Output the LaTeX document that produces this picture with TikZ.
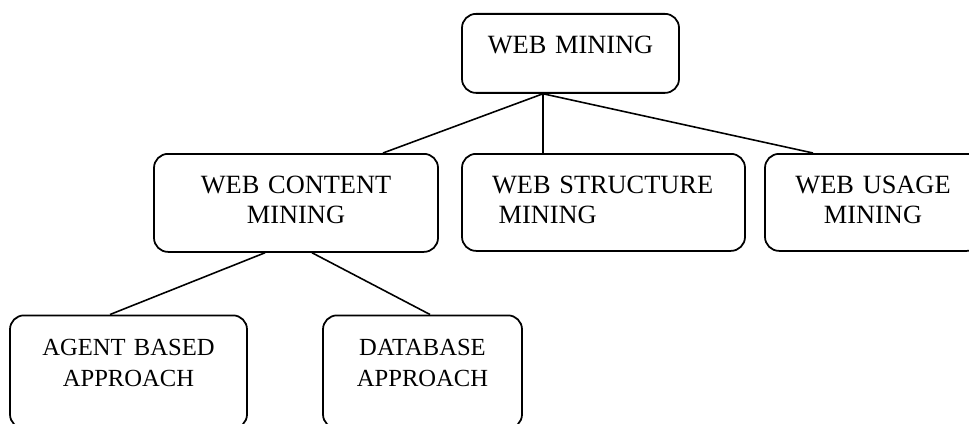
\documentclass[tikz,border=0pt]{standalone}
\usepackage{fontspec}
\setmainfont{Liberation Serif}
\begin{document}
\begin{tikzpicture}[
    box/.style={draw,rounded corners=0.28cm,line width=1pt,anchor=north,
      inner xsep=0pt,inner ysep=0pt,text height=0.8cm,align=center,
      font=\fontsize{15}{17}\selectfont},
    small/.style={font=\fontsize{14}{17.6}\selectfont},
    link/.style={line width=0.9pt},
  ]
  \def\rowa{-0.26}
  \def\rowb{-3.06}
  \def\rowc{-6.29}
  \path[use as bounding box,clip] (0,0) rectangle (19.38,-8.46);

  \node[box,text width=4.34cm,text depth=0.78cm] (mining) at (11.41,\rowa) {WEB MINING};

  \node[box,text width=5.68cm,text depth=1.16cm] (content) at (5.92,\rowb) {WEB CONTENT\\MINING};
  \node[box,align=left,inner xsep=0.6cm,text width=4.46cm,text depth=1.14cm] (structure) at (12.07,\rowb) {WEB STRUCTURE\\\hspace*{0.25em}MINING};
  \node[box,text width=4.32cm,text depth=1.14cm] (usage) at (17.46,\rowb) {WEB USAGE\\MINING};

  \node[box,small,text width=4.74cm,text depth=1.46cm] (agent) at (2.57,\rowc) {AGENT BASED\\APPROACH};
  \node[box,small,text width=3.98cm,text depth=1.46cm] (database) at (8.45,\rowc) {DATABASE\\APPROACH};

  \coordinate (hub) at ([xshift=-0.55cm]mining.south);
  \draw[link] (hub) -- ([xshift=1.74cm]content.north);
  \draw[link] (hub) -- ([xshift=-1.21cm]structure.north);
  \draw[link] (hub) -- ([xshift=-1.2cm]usage.north);
  \draw[link] ([xshift=-0.62cm]content.south) -- ([xshift=-0.37cm]agent.north);
  \draw[link] ([xshift=0.32cm]content.south) -- ([xshift=0.15cm]database.north);
\end{tikzpicture}
\end{document}
